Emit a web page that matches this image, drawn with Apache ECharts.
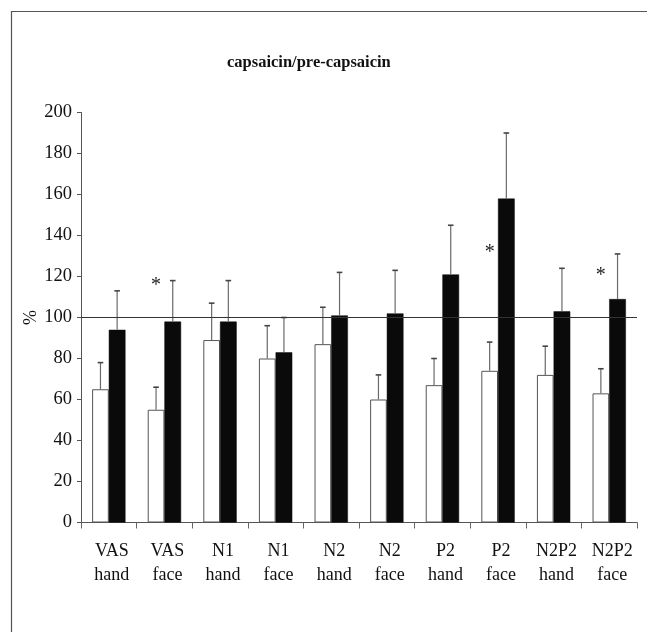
<!DOCTYPE html>
<html>
<head>
<meta charset="utf-8">
<script src="https://cdn.jsdelivr.net/npm/echarts@6/dist/echarts.min.js"></script>
<style>
  html, body { margin: 0; padding: 0; background: #fff; }
  #chart { width: 647px; height: 633px; }
</style>
</head>
<body>
<div id="chart"></div>
<script>
// ---- data ----
const categories = ['VAS\nhand', 'VAS\nface', 'N1\nhand', 'N1\nface', 'N2\nhand',
                    'N2\nface', 'P2\nhand', 'P2\nface', 'N2P2\nhand', 'N2P2\nface'];
const whiteValues = [65, 55, 89, 80, 87, 60, 67, 74, 72, 63];
const whiteErrors = [13, 11, 18, 16, 18, 12, 13, 14, 14, 12];
const blackValues = [94, 98, 98, 83, 101, 102, 121, 158, 103, 109];
const blackErrors = [19, 20, 20, 17, 21, 21, 24, 32, 21, 22];
const starCategories = [1, 7, 9];
const starValues = [117, 133, 122];
const yTicks = [0, 20, 40, 60, 80, 100, 120, 140, 160, 180, 200];
const referenceValue = 100;
const titleText = 'capsaicin/pre-capsaicin';
const yAxisName = '%';

const FONT = 'Liberation Serif';
const BAR_FRAC = 0.30; // bar width as fraction of category band

function errData(values, errs) {
  return values.map((v, i) => [i, v, v + errs[i]]);
}

function errRenderer(side) {
  return function (params, api) {
    const i = api.value(0);
    const base = api.coord([i, api.value(1)]);
    const top = api.coord([i, api.value(2)]);
    const band = api.size([1, 0])[0];
    const x = base[0] + side * band * BAR_FRAC / 2;
    const cap = 2.8;
    return {
      type: 'group',
      children: [
        { type: 'line', shape: { x1: x, y1: base[1], x2: x, y2: top[1] },
          style: { stroke: '#6a6a6a', lineWidth: 1.2 } },
        { type: 'line', shape: { x1: x - cap, y1: top[1], x2: x + cap, y2: top[1] },
          style: { stroke: '#444', lineWidth: 1.6 } }
      ]
    };
  };
}

const chart = echarts.init(document.getElementById('chart'));
const option = {
  backgroundColor: '#fff',
  animation: false,
  title: {
    text: titleText,
    left: 227, top: 54, padding: 0,
    textStyle: { fontFamily: FONT, fontWeight: 'bold', fontSize: 16.5, color: '#111' }
  },
  grid: { left: 81, right: 10, top: 112.5, bottom: 110.5, containLabel: false },
  xAxis: {
    type: 'category',
    data: categories,
    axisLine: { lineStyle: { color: '#555', width: 1 } },
    axisTick: { show: true, length: 6, lineStyle: { color: '#666' } },
    axisLabel: {
      fontFamily: FONT, fontSize: 18, color: '#111', lineHeight: 24,
      margin: 17, interval: 0, padding: [0, 0, 0, 6]
    }
  },
  yAxis: {
    type: 'value',
    min: yTicks[0], max: yTicks[yTicks.length - 1], interval: 20,
    name: yAxisName, nameLocation: 'middle', nameRotate: 90, nameGap: 41,
    nameMoveOverlap: false,
    nameTextStyle: { fontFamily: FONT, fontSize: 18, color: '#111' },
    splitLine: { show: false },
    axisLine: { show: true, lineStyle: { color: '#555', width: 1 } },
    axisTick: { show: true, length: 4, lineStyle: { color: '#555' } },
    axisLabel: { fontFamily: FONT, fontSize: 18.5, color: '#111', margin: 9 }
  },
  series: [
    {
      name: 'pre', type: 'bar', data: whiteValues,
      barWidth: (BAR_FRAC * 100) + '%', barGap: '0%',
      itemStyle: { color: '#fff', borderColor: '#555', borderWidth: 1 },
      z: 2,
      markLine: {
        silent: true, symbol: 'none', label: { show: false },
        lineStyle: { color: '#333', width: 1.2, type: 'solid' },
        data: [{ yAxis: referenceValue }]
      }
    },
    {
      name: 'capsaicin', type: 'bar', data: blackValues,
      barWidth: (BAR_FRAC * 100) + '%', barGap: '0%',
      itemStyle: { color: '#0a0a0a', borderColor: '#0a0a0a', borderWidth: 0.5 },
      z: 2
    },
    {
      type: 'custom', data: errData(whiteValues, whiteErrors),
      renderItem: errRenderer(-1), z: 3, silent: true
    },
    {
      type: 'custom', data: errData(blackValues, blackErrors),
      renderItem: errRenderer(1), z: 3, silent: true
    },
    {
      type: 'custom',
      data: starCategories.map((c, k) => [c, starValues[k]]),
      z: 4, silent: true,
      renderItem: function (params, api) {
        const p = api.coord([api.value(0), api.value(1)]);
        const band = api.size([1, 0])[0];
        return {
          type: 'text',
          x: p[0] - band * BAR_FRAC / 2,
          y: p[1] + 3,
          style: { text: '*', fontFamily: FONT, fontSize: 20, fill: '#222',
                   align: 'center', verticalAlign: 'middle' }
        };
      }
    }
  ],
  graphic: [
    { type: 'line', shape: { x1: 11.5, y1: 11, x2: 11.5, y2: 632 },
      style: { stroke: '#555', lineWidth: 1.2 } },
    { type: 'line', shape: { x1: 11, y1: 11.5, x2: 647, y2: 11.5 },
      style: { stroke: '#555', lineWidth: 1.2 } }
  ]
};
chart.setOption(option);
</script>
</body>
</html>
